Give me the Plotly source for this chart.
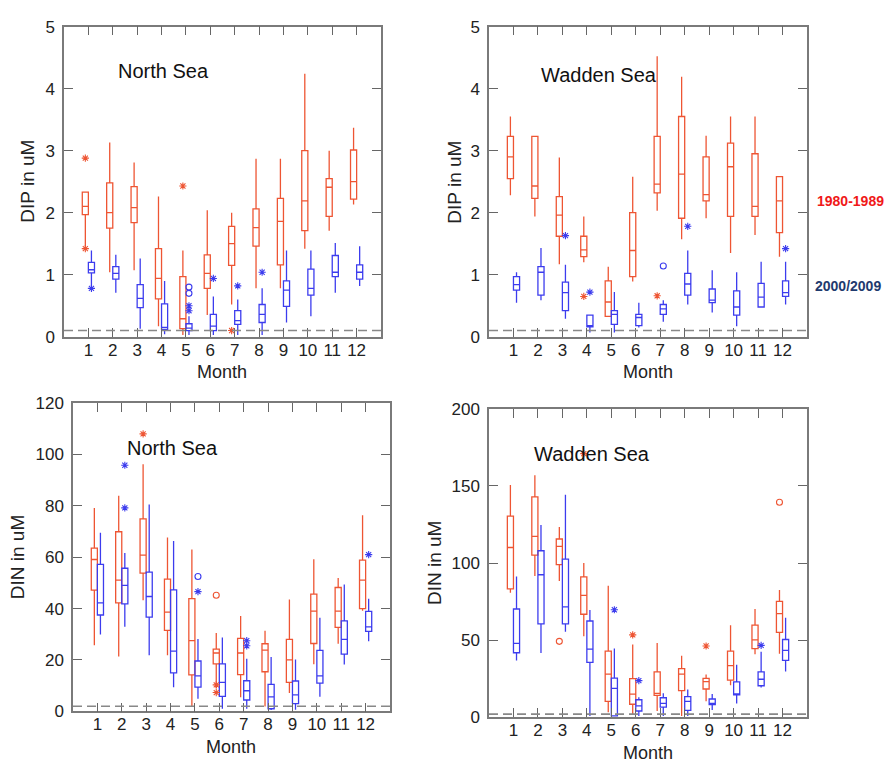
import plotly.graph_objects as go

MONTHS = list(range(1, 13))

# ---------------- North Sea DIP (uM) ----------------
NS_DIP_80_LO  = [1.45, 1.04, 1.07, 0.17, 0.03, 0.35, 0.52, 0.78, 0.78, 1.42, 1.71, 2.13]
NS_DIP_80_Q1  = [1.97, 1.75, 1.84, 0.61, 0.13, 0.78, 1.15, 1.46, 1.16, 1.71, 1.94, 2.22]
NS_DIP_80_MED = [2.10, 2.00, 2.08, 0.94, 0.29, 1.02, 1.50, 1.76, 1.86, 2.19, 2.41, 2.50]
NS_DIP_80_Q3  = [2.33, 2.48, 2.42, 1.42, 0.97, 1.32, 1.78, 2.06, 2.23, 3.00, 2.55, 3.01]
NS_DIP_80_HI  = [2.33, 3.13, 2.81, 2.26, 1.39, 2.04, 2.00, 2.87, 2.87, 4.24, 3.00, 3.37]
NS_DIP_80_STAR_M = [1, 1, 5, 7]
NS_DIP_80_STAR_V = [2.88, 1.42, 2.43, 0.10]

NS_DIP_00_LO  = [0.82, 0.71, 0.13, 0.04, 0.03, 0.03, 0.03, 0.03, 0.23, 0.33, 0.71, 0.82]
NS_DIP_00_Q1  = [1.03, 0.93, 0.47, 0.12, 0.10, 0.10, 0.20, 0.23, 0.49, 0.67, 0.97, 0.93]
NS_DIP_00_MED = [1.08, 1.02, 0.62, 0.15, 0.14, 0.17, 0.26, 0.36, 0.75, 0.78, 1.04, 1.04]
NS_DIP_00_Q3  = [1.20, 1.13, 0.84, 0.53, 0.21, 0.36, 0.42, 0.52, 0.90, 1.09, 1.31, 1.16]
NS_DIP_00_HI  = [1.39, 1.32, 1.26, 0.90, 0.33, 0.65, 0.60, 0.78, 1.39, 1.39, 1.51, 1.46]
NS_DIP_00_STAR_M = [1, 5, 5, 6, 7, 8]
NS_DIP_00_STAR_V = [0.78, 0.50, 0.42, 0.94, 0.82, 1.04]
NS_DIP_00_CIRC_M = [5, 5]
NS_DIP_00_CIRC_V = [0.80, 0.70]

# ---------------- Wadden Sea DIP (uM) ----------------
WS_DIP_80_LO  = [2.28, 1.94, 1.17, 1.20, 0.33, 0.89, 2.03, 1.57, 1.91, 1.35, 1.64, 1.29]
WS_DIP_80_Q1  = [2.55, 2.23, 1.62, 1.29, 0.33, 0.97, 2.32, 1.91, 2.19, 1.94, 1.94, 1.68]
WS_DIP_80_MED = [2.90, 2.43, 1.96, 1.40, 0.56, 1.39, 2.46, 2.62, 2.29, 2.74, 2.10, 2.19]
WS_DIP_80_Q3  = [3.23, 3.23, 2.26, 1.62, 0.90, 2.00, 3.23, 3.55, 2.90, 3.12, 2.95, 2.58]
WS_DIP_80_HI  = [3.55, 3.23, 2.89, 1.94, 1.13, 2.58, 4.52, 4.19, 3.24, 3.55, 3.55, 2.58]
WS_DIP_80_STAR_M = [4, 7]
WS_DIP_80_STAR_V = [0.65, 0.66]

WS_DIP_00_LO  = [0.55, 0.59, 0.29, 0.07, 0.07, 0.15, 0.24, 0.52, 0.39, 0.17, 0.48, 0.52]
WS_DIP_00_Q1  = [0.75, 0.67, 0.42, 0.16, 0.20, 0.18, 0.36, 0.67, 0.55, 0.35, 0.48, 0.65]
WS_DIP_00_MED = [0.84, 1.04, 0.71, 0.18, 0.36, 0.31, 0.45, 0.85, 0.59, 0.48, 0.64, 0.71]
WS_DIP_00_Q3  = [0.97, 1.13, 0.88, 0.35, 0.42, 0.36, 0.52, 1.02, 0.77, 0.74, 0.86, 0.90]
WS_DIP_00_HI  = [1.04, 1.43, 1.16, 0.35, 0.72, 0.55, 0.59, 1.39, 1.07, 1.04, 1.21, 1.21]
WS_DIP_00_STAR_M = [3, 4, 8, 12]
WS_DIP_00_STAR_V = [1.63, 0.72, 1.78, 1.42]
WS_DIP_00_CIRC_M = [7]
WS_DIP_00_CIRC_V = [1.14]

# ---------------- North Sea DIN (uM) ----------------
NS_DIN_80_LO  = [25.7, 21.3, 43.2, 21.8, 1.9, 9.0, 5.5, 1.9, 7.1, 18.3, 26.3, 39.2]
NS_DIN_80_Q1  = [47.2, 42.2, 53.8, 31.5, 14.2, 18.5, 14.3, 15.4, 11.3, 26.4, 32.7, 40.0]
NS_DIN_80_MED = [59.1, 51.1, 60.8, 38.6, 27.5, 22.7, 22.7, 23.8, 20.0, 39.0, 39.0, 51.1]
NS_DIN_80_Q3  = [63.5, 69.9, 74.9, 51.5, 43.9, 24.2, 28.4, 26.3, 28.0, 45.6, 48.2, 58.9]
NS_DIN_80_HI  = [79.2, 83.9, 96.2, 67.7, 63.0, 30.5, 37.1, 31.4, 43.5, 59.2, 51.9, 76.3]
NS_DIN_80_STAR_M = [3, 6, 6]
NS_DIN_80_STAR_V = [108.0, 10.3, 7.3]
NS_DIN_80_CIRC_M = [6]
NS_DIN_80_CIRC_V = [45.2]

NS_DIN_00_LO  = [29.9, 32.9, 21.8, 9.4, 4.9, 1.0, 1.0, 0.5, 0.6, 5.7, 18.2, 27.3]
NS_DIN_00_Q1  = [37.5, 41.8, 36.7, 15.0, 9.4, 5.8, 4.4, 1.0, 3.0, 11.0, 22.3, 31.1]
NS_DIN_00_MED = [42.2, 49.0, 44.7, 23.4, 13.8, 11.3, 8.0, 5.6, 6.4, 13.8, 28.0, 32.9]
NS_DIN_00_Q3  = [57.2, 55.7, 54.2, 47.3, 19.6, 18.5, 11.9, 10.5, 11.8, 23.7, 35.2, 38.9]
NS_DIN_00_HI  = [69.5, 61.6, 80.5, 66.3, 28.2, 28.7, 20.5, 21.1, 20.2, 36.4, 49.4, 43.8]
NS_DIN_00_STAR_M = [2, 2, 5, 7, 7, 12]
NS_DIN_00_STAR_V = [95.8, 79.2, 46.6, 27.5, 25.5, 61.0]
NS_DIN_00_CIRC_M = [5]
NS_DIN_00_CIRC_V = [52.5]

# ---------------- Wadden Sea DIN (uM) ----------------
WS_DIN_80_LO  = [80.7, 91.6, 88.4, 52.5, 3.2, 2.1, 4.0, 0.8, 10.3, 20.8, 40.9, 41.2]
WS_DIN_80_Q1  = [83.2, 105.1, 99.0, 66.8, 10.3, 8.4, 14.1, 17.2, 18.3, 24.0, 44.5, 55.0]
WS_DIN_80_MED = [110.1, 117.3, 110.8, 79.0, 28.0, 14.9, 15.5, 28.0, 23.1, 33.4, 50.2, 67.2]
WS_DIN_80_Q3  = [130.4, 143.0, 115.6, 91.0, 42.9, 25.0, 29.4, 31.5, 25.2, 42.9, 59.7, 75.2]
WS_DIN_80_HI  = [150.6, 157.0, 123.4, 100.0, 85.3, 47.1, 48.1, 39.9, 27.7, 59.7, 70.2, 82.6]
WS_DIN_80_STAR_M = [4, 6, 9]
WS_DIN_80_STAR_V = [171.0, 53.4, 46.2]
WS_DIN_80_CIRC_M = [3, 12]
WS_DIN_80_CIRC_V = [49.2, 139.5]

WS_DIN_00_LO  = [36.8, 41.6, 55.5, 0.8, 0.8, 0.8, 0.8, 0.8, 4.6, 8.8, 19.3, 29.6]
WS_DIN_00_Q1  = [41.8, 60.5, 60.5, 35.5, 0.8, 4.0, 6.5, 4.4, 8.1, 14.5, 20.4, 36.8]
WS_DIN_00_MED = [47.9, 92.4, 71.6, 44.1, 18.7, 7.4, 9.0, 10.3, 9.0, 15.1, 24.6, 43.4]
WS_DIN_00_Q3  = [70.2, 108.0, 102.5, 62.4, 25.4, 11.3, 12.6, 13.4, 11.8, 22.9, 29.4, 50.4]
WS_DIN_00_HI  = [91.2, 124.7, 144.3, 69.5, 44.5, 13.0, 15.5, 17.9, 15.1, 34.0, 42.4, 64.5]
WS_DIN_00_STAR_M = [5, 6, 11]
WS_DIN_00_STAR_V = [69.7, 23.7, 46.6]

DIP_LIMIT = 0.1
DIN_LIMIT = 2.0

SERIES_LABELS = ["1980-1989", "2000/2009"]
PANEL_TITLES = ["North Sea", "Wadden Sea", "North Sea", "Wadden Sea"]
Y_TITLES = ["DIP in uM", "DIP in uM", "DIN in uM", "DIN in uM"]
X_TITLE = "Month"

# ---------------- styling ----------------
RED = "#EE5533"
BLUE = "#3C3CEE"
BOX_W = 0.25
OFFSETS = [-BOX_W / 2, BOX_W / 2]
FONT = "Liberation Sans, Arial, sans-serif"
AXIS_COLOR = "#7a7a7a"
W, H = 884, 774

fig = go.Figure()

panels = [
    dict(ax="", ymax=5, dtick=1, limit=DIP_LIMIT,
         series=[(NS_DIP_80_LO, NS_DIP_80_Q1, NS_DIP_80_MED, NS_DIP_80_Q3, NS_DIP_80_HI,
                  NS_DIP_80_STAR_M, NS_DIP_80_STAR_V, [], []),
                 (NS_DIP_00_LO, NS_DIP_00_Q1, NS_DIP_00_MED, NS_DIP_00_Q3, NS_DIP_00_HI,
                  NS_DIP_00_STAR_M, NS_DIP_00_STAR_V, NS_DIP_00_CIRC_M, NS_DIP_00_CIRC_V)],
         xdom=[64 / W, 381 / W], ydom=[1 - 336 / H, 1 - 18 / H]),
    dict(ax="2", ymax=5, dtick=1, limit=DIP_LIMIT,
         series=[(WS_DIP_80_LO, WS_DIP_80_Q1, WS_DIP_80_MED, WS_DIP_80_Q3, WS_DIP_80_HI,
                  WS_DIP_80_STAR_M, WS_DIP_80_STAR_V, [], []),
                 (WS_DIP_00_LO, WS_DIP_00_Q1, WS_DIP_00_MED, WS_DIP_00_Q3, WS_DIP_00_HI,
                  WS_DIP_00_STAR_M, WS_DIP_00_STAR_V, WS_DIP_00_CIRC_M, WS_DIP_00_CIRC_V)],
         xdom=[489 / W, 807 / W], ydom=[1 - 336 / H, 1 - 18 / H]),
    dict(ax="3", ymax=120, dtick=20, limit=DIN_LIMIT,
         series=[(NS_DIN_80_LO, NS_DIN_80_Q1, NS_DIN_80_MED, NS_DIN_80_Q3, NS_DIN_80_HI,
                  NS_DIN_80_STAR_M, NS_DIN_80_STAR_V, NS_DIN_80_CIRC_M, NS_DIN_80_CIRC_V),
                 (NS_DIN_00_LO, NS_DIN_00_Q1, NS_DIN_00_MED, NS_DIN_00_Q3, NS_DIN_00_HI,
                  NS_DIN_00_STAR_M, NS_DIN_00_STAR_V, NS_DIN_00_CIRC_M, NS_DIN_00_CIRC_V)],
         xdom=[73 / W, 390 / W], ydom=[1 - 720 / H, 1 - 404 / H]),
    dict(ax="4", ymax=200, dtick=50, limit=DIN_LIMIT,
         series=[(WS_DIN_80_LO, WS_DIN_80_Q1, WS_DIN_80_MED, WS_DIN_80_Q3, WS_DIN_80_HI,
                  WS_DIN_80_STAR_M, WS_DIN_80_STAR_V, WS_DIN_80_CIRC_M, WS_DIN_80_CIRC_V),
                 (WS_DIN_00_LO, WS_DIN_00_Q1, WS_DIN_00_MED, WS_DIN_00_Q3, WS_DIN_00_HI,
                  WS_DIN_00_STAR_M, WS_DIN_00_STAR_V, [], [])],
         xdom=[489 / W, 807 / W], ydom=[1 - 726 / H, 1 - 410 / H]),
]

colors = [RED, BLUE]
shapes = []
layout_axes = {}
for p in panels:
    xa, ya = "x" + p["ax"], "y" + p["ax"]
    for s, (lo, q1, med, q3, hi, sm, sv, cm, cv) in enumerate(p["series"]):
        c = colors[s]
        off = OFFSETS[s]
        fig.add_trace(go.Box(
            x=[m + off for m in MONTHS], q1=q1, median=med, q3=q3,
            lowerfence=lo, upperfence=hi, width=BOX_W,
            line=dict(color=c, width=1.3), fillcolor="rgba(0,0,0,0)",
            whiskerwidth=0, boxpoints=False, name=SERIES_LABELS[s],
            showlegend=False, xaxis=xa, yaxis=ya))
        if sm:
            fig.add_trace(go.Scatter(
                x=[m + off for m in sm], y=sv, mode="markers", showlegend=False,
                marker=dict(symbol="asterisk-open", size=6, color=c,
                            line=dict(color=c, width=1.1)),
                xaxis=xa, yaxis=ya))
        if cm:
            fig.add_trace(go.Scatter(
                x=[m + off for m in cm], y=cv, mode="markers", showlegend=False,
                marker=dict(symbol="circle-open", size=6, color=c,
                            line=dict(color=c, width=1.1)),
                xaxis=xa, yaxis=ya))
    shapes.append(dict(type="line", xref=xa + " domain", yref=ya, x0=0, x1=1,
                       y0=p["limit"], y1=p["limit"],
                       line=dict(color="#888888", width=1.6, dash="9px,5px")))
    common = dict(showline=True, linecolor=AXIS_COLOR, linewidth=1.5, mirror="ticks",
                  ticks="inside", ticklen=9, tickwidth=1.3, tickcolor="#666666",
                  showgrid=False, zeroline=False,
                  tickfont=dict(family=FONT, size=17, color="#222222"))
    key = p["ax"]
    layout_axes["xaxis" + key] = dict(domain=p["xdom"], range=[0, 13], tickvals=MONTHS,
                                      anchor=ya, ticklabelstandoff=-3, **common)
    layout_axes["yaxis" + key] = dict(domain=p["ydom"], range=[0, p["ymax"]],
                                      dtick=p["dtick"], tick0=0, anchor=xa,
                                      ticklabelstandoff=4, **common)

annotations = []
title_pos = [(116, 64), (539, 68), (125, 450), (532, 456)]
for t, (px, py) in zip(PANEL_TITLES, title_pos):
    annotations.append(dict(text=t, xref="paper", yref="paper", x=px / W, y=1 - py / H,
                            xanchor="left", yanchor="middle", showarrow=False,
                            font=dict(family=FONT, size=20, color="#111111")))
ytitle_pos = [(28, 177), (455, 177), (17, 562), (434, 568)]
for t, (px, py) in zip(Y_TITLES, ytitle_pos):
    annotations.append(dict(text=t, xref="paper", yref="paper", x=px / W, y=1 - py / H,
                            xanchor="center", yanchor="middle", textangle=-90, showarrow=False,
                            font=dict(family=FONT, size=19, color="#222222")))
xtitle_pos = [(222, 372), (648, 372), (231, 757), (648, 763)]
for px, py in xtitle_pos:
    annotations.append(dict(text=X_TITLE, xref="paper", yref="paper", x=px / W, y=1 - py / H,
                            xanchor="center", yanchor="middle", showarrow=False,
                            font=dict(family=FONT, size=18, color="#222222")))
legend_pos = [(815, 197, "#F01818"), (813, 284, "#1F3A6E")]
for lab, (px, py, col) in zip(SERIES_LABELS, legend_pos):
    annotations.append(dict(text="<b>" + lab + "</b>", xref="paper", yref="paper",
                            x=px / W, y=1 - py / H, xanchor="left", yanchor="middle",
                            showarrow=False, font=dict(family=FONT, size=14, color=col)))

fig.update_layout(
    width=W, height=H, margin=dict(l=0, r=0, t=0, b=0), autosize=False,
    paper_bgcolor="white", plot_bgcolor="white",
    shapes=shapes, annotations=annotations, showlegend=False,
    **layout_axes)

fig.write_html(
    "out.html",
    config={"displayModeBar": False, "responsive": False},
    post_script=("document.documentElement.style.margin='0';"
                 "document.documentElement.style.overflow='hidden';"
                 "document.body.style.margin='0';document.body.style.padding='0';"
                 "document.body.style.overflow='hidden';"))
